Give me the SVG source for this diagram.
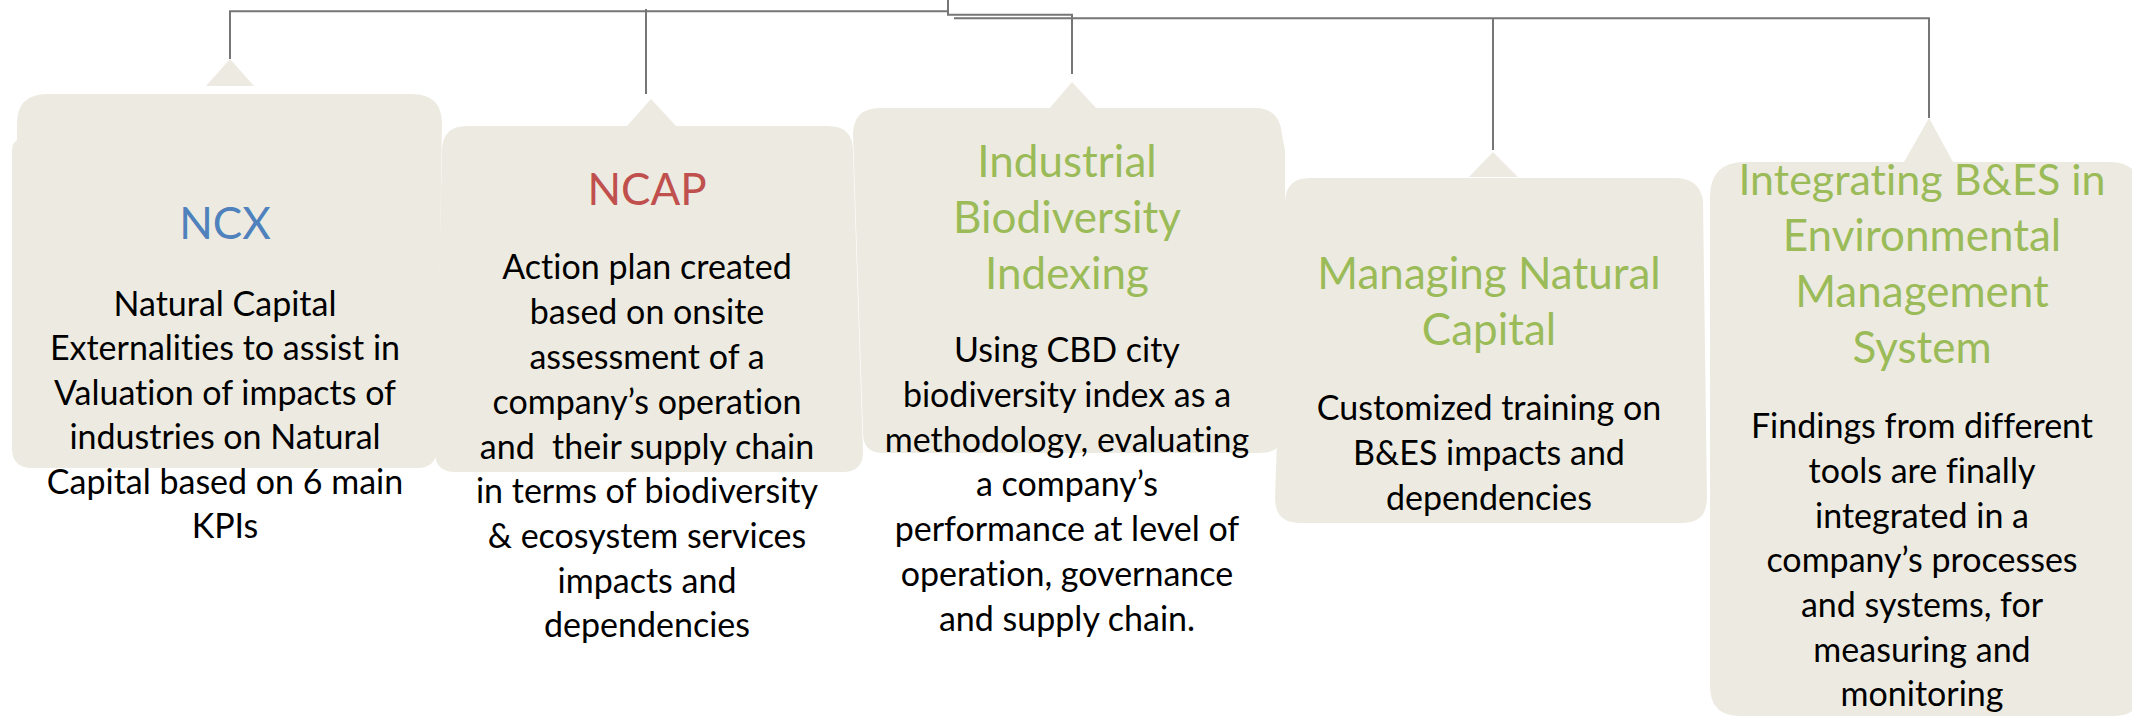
<svg xmlns="http://www.w3.org/2000/svg" width="2132" height="718" viewBox="0 0 2132 718">
<style>
.box{fill:#EDEBE1;stroke:none}
.conn{fill:none;stroke:#767676;stroke-width:2}
text{font-family:Lato,"Liberation Sans",sans-serif;text-anchor:middle;font-variant-ligatures:none;font-feature-settings:"liga" 0,"dlig" 0}
.t{font-size:44px}
.b{font-size:34px;fill:#000}
.g{fill:#9BBB59}
.bl{fill:#4F81BD}
.rd{fill:#C0504D}
</style>
<rect width="2132" height="718" fill="#fff"/>
<g id="connectors">
<path class="conn" d="M948,0 V14.7 H1072 V74"/>
<path class="conn" d="M230,59 V11.3 H948"/>
<path class="conn" d="M646,9 V94"/>
<path class="conn" d="M954,18.3 H1929 V118"/>
<path class="conn" d="M1493,18.3 V150"/>
</g>
<g id="ncx">
<path class="box" d="M206,86 L230,59 L254,86 Z"/>
<path class="box" d="M47,94 H412 Q442,94 442,124 L437,448 Q437,468 417,468 H32 Q12,468 12,448 V152 Q12,143 17,140 V124 Q17,94 47,94 Z"/>
<text class="t bl" x="225" y="239">NCX</text>
<text class="b" x="225" y="316">Natural Capital</text>
<text class="b" x="225" y="360.4">Externalities to assist in</text>
<text class="b" x="225" y="404.8">Valuation of impacts of</text>
<text class="b" x="225" y="449.2">industries on Natural</text>
<text class="b" x="225" y="493.6">Capital based on 6 main</text>
<text class="b" x="225" y="538">KPIs</text>
</g>
<g id="ncap">
<path class="box" d="M627,126 L651,99 L676,126 Z"/>
<path class="box" d="M467,126 H828 Q853,126 853,151 L863,452 Q863,472 843,472 H455 Q435,472 435,452 L442,151 Q442,126 467,126 Z"/>
<text class="t rd" x="647" y="205">NCAP</text>
<text class="b" x="647" y="279">Action plan created</text>
<text class="b" x="647" y="324">based on onsite</text>
<text class="b" x="647" y="369">assessment of a</text>
<text class="b" x="647" y="414">company’s operation</text>
<text class="b" x="647" y="459" style="white-space:pre">and  their supply chain</text>
<text class="b" x="647" y="503">in terms of biodiversity</text>
<text class="b" x="647" y="548">&amp; ecosystem services</text>
<text class="b" x="647" y="593">impacts and</text>
<text class="b" x="647" y="637">dependencies</text>
</g>
<g id="industrial">
<path class="box" d="M1049,109 L1072,82 L1097,109 Z"/>
<path class="box" d="M880,108 H1255 Q1280,108 1282,135 L1285,150 V430 Q1283,453 1260,453 H883 Q863,453 863,433 L853,135 Q853,108 880,108 Z"/>
<text class="t g" x="1067" y="177">Industrial</text>
<text class="t g" x="1067" y="233">Biodiversity</text>
<text class="t g" x="1067" y="289">Indexing</text>
<text class="b" x="1067" y="362">Using CBD city</text>
<text class="b" x="1067" y="407">biodiversity index as a</text>
<text class="b" x="1067" y="452">methodology, evaluating</text>
<text class="b" x="1067" y="496">a company’s</text>
<text class="b" x="1067" y="541">performance at level of</text>
<text class="b" x="1067" y="586">operation, governance</text>
<text class="b" x="1067" y="631">and supply chain.</text>
</g>
<g id="managing">
<path class="box" d="M1469,177 L1493,152 L1518,177 Z"/>
<path class="box" d="M1310,178 H1675 Q1699,178 1703,200 L1707,498 Q1707,523 1682,523 H1300 Q1275,523 1275,498 L1285,203 Q1285,178 1310,178 Z"/>
<text class="t g" x="1489" y="289">Managing Natural</text>
<text class="t g" x="1489" y="345">Capital</text>
<text class="b" x="1489" y="420">Customized training on</text>
<text class="b" x="1489" y="465">B&amp;ES impacts and</text>
<text class="b" x="1489" y="510">dependencies</text>
</g>
<g id="integrating">
<path class="box" d="M1904,162 L1929,118 L1953,162 Z"/>
<path class="box" d="M1745,162 H2110 Q2140,162 2140,192 V690 Q2140,716 2115,716 H1740 Q1710,716 1710,686 V197 Q1710,162 1745,162 Z"/>
<text class="t g" x="1922" y="195" style="font-size:43px">Integrating B&amp;ES in</text>
<text class="t g" x="1922" y="251">Environmental</text>
<text class="t g" x="1922" y="307">Management</text>
<text class="t g" x="1922" y="363">System</text>
<text class="b" x="1922" y="438">Findings from different</text>
<text class="b" x="1922" y="483">tools are finally</text>
<text class="b" x="1922" y="528">integrated in a</text>
<text class="b" x="1922" y="572">company’s processes</text>
<text class="b" x="1922" y="617">and systems, for</text>
<text class="b" x="1922" y="662">measuring and</text>
<text class="b" x="1922" y="706">monitoring</text>
</g>
</svg>
